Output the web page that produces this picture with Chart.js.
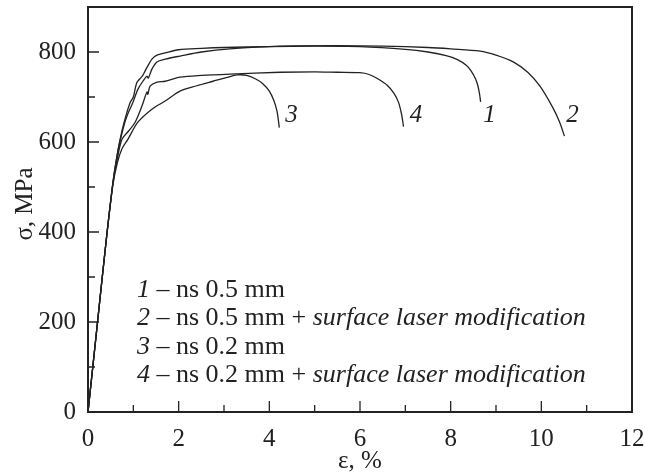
<!DOCTYPE html>
<html>
<head>
<meta charset="utf-8">
<script src="https://cdn.jsdelivr.net/npm/chart.js@4"></script>
<style>
  body { margin: 0; background: #fff; }
  #wrap { width: 645px; height: 472px; }
</style>
</head>
<body>
<div id="wrap"><canvas id="chartCurves"></canvas></div>
<script>
  // strain (%) and stress (MPa)
  const strain1 = [0, 0.2, 0.4, 0.55, 0.65, 0.75, 0.85, 0.93, 1.0, 1.04, 1.08, 1.14, 1.21, 1.26, 1.32, 1.41, 1.52, 1.7, 2.0, 2.5, 3.0, 4.0, 5.0, 6.0, 7.0, 7.5, 7.9, 8.15, 8.35, 8.45, 8.55, 8.6, 8.64, 8.66];
  const stress1 = [0, 190, 380, 510, 575, 625, 663, 688, 700, 718, 733, 740, 748, 758, 769, 784, 793, 798, 805, 808, 810, 812, 813, 812, 806, 800, 792, 783, 770, 758, 740, 725, 705, 689];

  const strain2 = [0, 0.2, 0.4, 0.55, 0.65, 0.75, 0.85, 0.99, 1.1, 1.21, 1.3, 1.33, 1.41, 1.52, 1.7, 2.03, 2.5, 3.13, 4.24, 5.5, 6.5, 7.5, 8.0, 8.65, 9.0, 9.38, 9.7, 9.97, 10.25, 10.4, 10.51];
  const stress2 = [0, 190, 380, 510, 575, 620, 655, 688, 717, 735, 746, 742, 762, 778, 784, 791, 800, 807, 813, 814, 813, 810, 807, 802, 793, 778, 755, 724, 677, 645, 613];

  const strain3 = [0, 0.2, 0.4, 0.55, 0.65, 0.75, 0.88, 1.1, 1.41, 1.7, 2.03, 2.4, 2.76, 3.05, 3.29, 3.5, 3.7, 3.85, 4.0, 4.1, 4.17, 4.2, 4.22];
  const stress3 = [0, 190, 380, 505, 555, 585, 606, 644, 673, 691, 713, 725, 735, 743, 749, 748, 740, 730, 713, 692, 668, 648, 632];

  const strain4 = [0, 0.2, 0.4, 0.55, 0.65, 0.75, 0.9, 1.04, 1.19, 1.3, 1.32, 1.37, 1.52, 1.7, 2.03, 2.5, 3.13, 4.24, 5.0, 5.5, 6.0, 6.2, 6.4, 6.6, 6.75, 6.85, 6.92, 6.96];
  const stress4 = [0, 190, 380, 508, 565, 606, 625, 644, 680, 711, 706, 724, 733, 735, 744, 748, 751, 755, 756, 755, 754, 750, 740, 726, 708, 688, 660, 634];

  const curveNames = ["1", "2", "3", "4"];
  const curveTagX = [8.72, 10.55, 4.35, 7.1];
  const curveTagY = 644;

  const legendRows = [
    ["1", "ns 0.5 mm", ""],
    ["2", "ns 0.5 mm + ", "surface laser modification"],
    ["3", "ns 0.2 mm", ""],
    ["4", "ns 0.2 mm + ", "surface laser modification"],
  ];

  const xTicks = [0, 2, 4, 6, 8, 10, 12];
  const yTicks = [0, 200, 400, 600, 800];

  const ink = "#222";
  const serif = "'Liberation Serif', 'Times New Roman', serif";

  function pairs(xs, ys) {
    return xs.map((x, i) => ({ x: x, y: ys[i] }));
  }

  const series = [
    pairs(strain1, stress1),
    pairs(strain2, stress2),
    pairs(strain3, stress3),
    pairs(strain4, stress4),
  ];

  // no extra room for overhanging tick labels, the frame is placed by layout padding
  function noOverhang(s) {
    s.paddingTop = 0;
    s.paddingBottom = 0;
    s.paddingLeft = 0;
    s.paddingRight = 0;
  }

  const decorations = {
    id: "decorations",
    afterDraw(chart) {
      const ctx = chart.ctx;
      const a = chart.chartArea;
      const xs = chart.scales.x;
      const ys = chart.scales.y;
      ctx.save();
      ctx.strokeStyle = ink;
      ctx.fillStyle = ink;

      // frame
      ctx.lineWidth = 2;
      ctx.strokeRect(a.left, a.top, a.right - a.left, a.bottom - a.top);

      // inward ticks
      ctx.lineWidth = 1.3;
      ctx.beginPath();
      for (let v = 1; v < 12; v++) {
        const px = xs.getPixelForValue(v);
        const len = v % 2 === 0 ? 11 : 7;
        ctx.moveTo(px, a.bottom);
        ctx.lineTo(px, a.bottom - len);
      }
      for (let v = 100; v < 900; v += 100) {
        const py = ys.getPixelForValue(v);
        const len = v % 200 === 0 ? 11 : 7;
        ctx.moveTo(a.left, py);
        ctx.lineTo(a.left + len, py);
      }
      ctx.stroke();

      // axis titles
      ctx.font = "25px " + serif;
      ctx.textAlign = "center";
      ctx.textBaseline = "middle";
      ctx.fillText("ε, %", (a.left + a.right) / 2, 461);
      ctx.save();
      ctx.translate(25, 204);
      ctx.rotate(-Math.PI / 2);
      ctx.fillText("σ, MPa", 0, 0);
      ctx.restore();

      // curve numbers
      ctx.font = "italic 25px " + serif;
      ctx.textAlign = "left";
      ctx.textBaseline = "alphabetic";
      curveNames.forEach((n, i) => {
        ctx.fillText(n, xs.getPixelForValue(curveTagX[i]), ys.getPixelForValue(curveTagY));
      });

      // legend block
      const left = 137;
      const base = 297;
      const step = 28.3;
      legendRows.forEach((row, i) => {
        let x = left;
        const y = base + i * step;
        ctx.font = "italic 26px " + serif;
        ctx.fillText(row[0], x, y);
        x += ctx.measureText(row[0]).width;
        ctx.font = "26px " + serif;
        const mid = " \u2013 " + row[1];
        ctx.fillText(mid, x, y);
        x += ctx.measureText(mid).width;
        if (row[2]) {
          ctx.font = "italic 26px " + serif;
          ctx.fillText(row[2], x, y);
        }
      });
      ctx.restore();
    },
  };

  const config = {
    type: "line",
    data: {
      datasets: series.map((pts, i) => ({
        label: curveNames[i],
        data: pts,
        borderColor: ink,
        borderWidth: 1.3,
        pointRadius: 0,
        tension: 0.3,
        fill: false,
      })),
    },
    options: {
      responsive: false,
      animation: false,
      layout: { padding: { top: 7, right: 13, bottom: 0, left: 0 } },
      plugins: { legend: { display: false }, tooltip: { enabled: false } },
      scales: {
        x: {
          type: "linear",
          min: 0,
          max: 12,
          grid: { display: false, drawTicks: false },
          border: { display: false },
          afterBuildTicks: (s) => { s.ticks = xTicks.map((v) => ({ value: v })); },
          afterFit: (s) => { s.height = 60; noOverhang(s); },
          ticks: { color: ink, padding: 12, maxRotation: 0, font: { family: serif, size: 25 } },
        },
        y: {
          type: "linear",
          min: 0,
          max: 900,
          grid: { display: false, drawTicks: false },
          border: { display: false },
          afterBuildTicks: (s) => { s.ticks = yTicks.map((v) => ({ value: v })); },
          afterFit: (s) => { s.width = 88; noOverhang(s); },
          ticks: { color: ink, padding: 12, font: { family: serif, size: 25 } },
        },
      },
    },
    plugins: [decorations],
  };

  const canvas = document.getElementById("chartCurves");
  canvas.width = 645;
  canvas.height = 472;
  new Chart(canvas, config);
</script>
</body>
</html>
